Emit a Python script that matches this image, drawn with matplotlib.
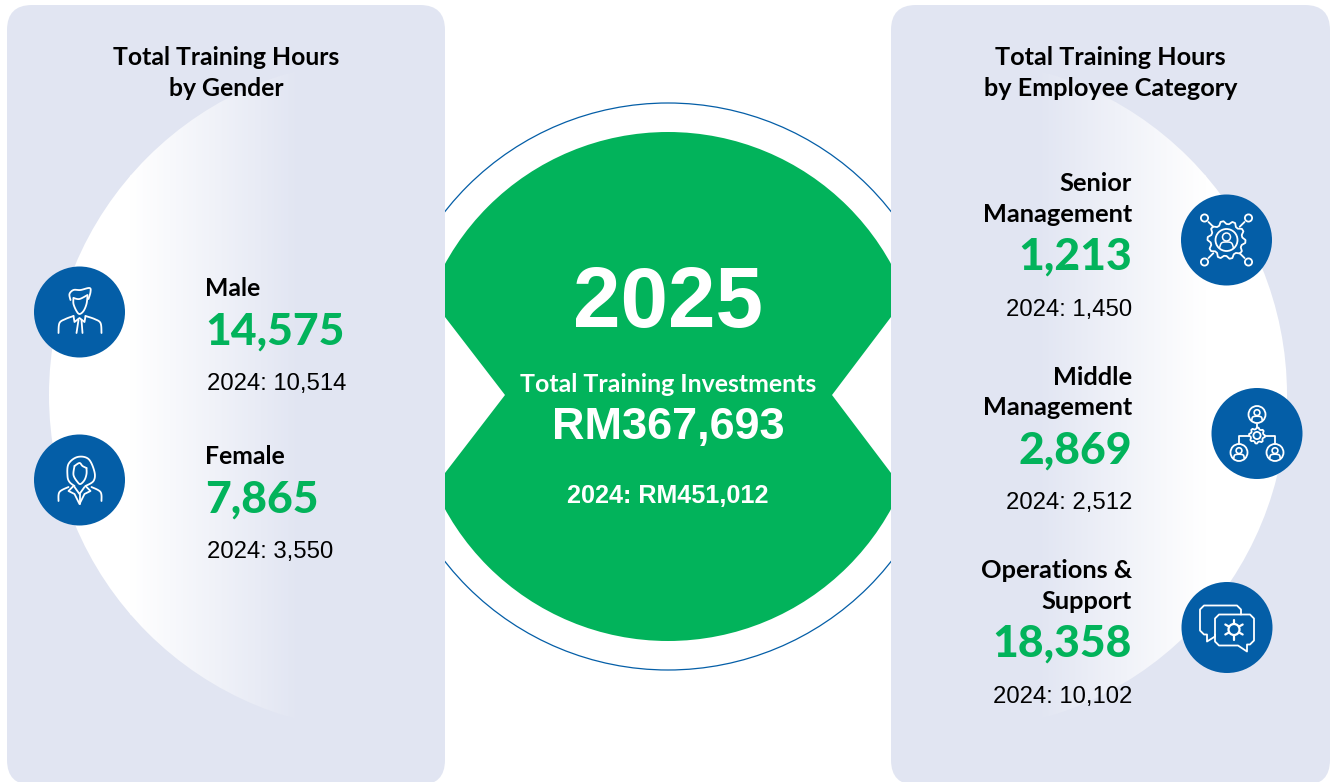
#!/usr/bin/env python
"""Training hours infographic: gender and employee category panels around a central investment badge."""

import numpy as np
import matplotlib
matplotlib.use("Agg")
import matplotlib.pyplot as plt
from matplotlib.patches import Circle, FancyBboxPatch, PathPatch, Polygon
from matplotlib.path import Path
from matplotlib.colors import LinearSegmentedColormap

PANEL = "#E1E5F2"
GREEN = "#02B35B"
BLUE = "#045EA7"
HEAD_FONT = ["Lato", "DejaVu Sans"]
PLAIN_FONT = ["Liberation Sans", "DejaVu Sans"]

# Data
gender_labels = ["Male", "Female"]
gender_2025 = [14575, 7865]
gender_2024 = [10514, 3550]

category_labels = ["Senior\nManagement", "Middle\nManagement", "Operations &\nSupport"]
category_2025 = [1213, 2869, 18358]
category_2024 = [1450, 2512, 10102]

investment_2025 = 367693
investment_2024 = 451012

fig = plt.figure(figsize=(13.3, 7.82), dpi=100)
ax = fig.add_axes([0, 0, 1, 1])
ax.set_xlim(0, 1330)
ax.set_ylim(782, 0)
ax.axis("off")


def line(points, lw=1.3, closed=False):
    """White icon stroke through the points."""
    pts = np.array(points, dtype=float)
    codes = [Path.MOVETO] + [Path.LINETO] * (len(pts) - 1)
    if closed:
        pts = np.vstack([pts, pts[0]])
        codes = codes + [Path.CLOSEPOLY]
    ax.add_patch(PathPatch(Path(pts, codes), fc="none", ec="white", lw=lw, zorder=6,
                           capstyle="round", joinstyle="round"))


def curve(x, y, points, lw=1.3):
    """Smooth icon stroke (Catmull-Rom) through points given relative to the icon centre."""
    p = np.array(points, dtype=float) + (x, y)
    p = np.vstack([p[0], p, p[-1]])
    t = np.linspace(0, 1, 12, endpoint=False)[:, None]
    out = []
    for i in range(1, len(p) - 2):
        a, b, c, d = p[i - 1], p[i], p[i + 1], p[i + 2]
        out.append(0.5 * (2 * b + (c - a) * t + (2 * a - 5 * b + 4 * c - d) * t ** 2
                          + (3 * b - a - 3 * c + d) * t ** 3))
    out.append(p[-1][None, :])
    line(np.vstack(out), lw=lw)


def ring(x, y, r, lw=1.3):
    ax.add_patch(Circle((x, y), r, fc="none", ec="white", lw=lw, zorder=6))


def gear(x, y, r_out, r_in, teeth, lw=1.3):
    angles = np.linspace(0, 2 * np.pi, teeth * 4, endpoint=False)
    radii = np.tile([r_out, r_out, r_in, r_in], teeth)
    pts = np.column_stack([x + radii * np.cos(angles), y + radii * np.sin(angles)])
    line(pts, lw=lw, closed=True)


def person_badge(x, y, r):
    """Small head and shoulders inside a ring."""
    ring(x, y, r)
    ring(x, y - r * 0.22, r * 0.34, lw=1.2)
    curve(x, y, [(-r * 0.62, r * 0.7), (-r * 0.5, r * 0.3), (0, r * 0.2),
                 (r * 0.5, r * 0.3), (r * 0.62, r * 0.7)], lw=1.2)


def male_icon(x, y):
    curve(x, y, [(-9, -12), (-10, -18), (-6, -22), (1, -22), (10, -24), (11, -20), (9, -13)])
    curve(x, y, [(-6, -14), (-6, -8), (-3, -1), (0, 2), (4, -1), (7, -8), (8, -16)])
    curve(x, y, [(-6, -14), (0, -13), (8, -17)])
    curve(x, y, [(-21, 21), (-20, 11), (-14, 7), (-6, 4)])
    curve(x, y, [(22, 21), (21, 11), (15, 7), (6, 4)])
    line([(x - 6, y + 4), (x - 5, y + 10), (x, y + 6), (x + 5, y + 10), (x + 6, y + 4)])
    line([(x - 1, y + 8), (x - 3, y + 21)])
    line([(x + 2, y + 8), (x + 3, y + 21)])


def female_icon(x, y):
    curve(x, y, [(-5, 6), (-10, 2), (-12, -4), (-11, -16), (-2, -23), (9, -21), (15, -8),
                 (14, 1), (6, 6)])
    curve(x, y, [(-5, -14), (-6, -5), (-2, 2), (1, 4), (5, 0), (7, -6), (7, -12)])
    curve(x, y, [(-5, -14), (0, -17), (3, -14), (7, -12)])
    curve(x, y, [(-21, 21), (-20, 12), (-11, 7)])
    curve(x, y, [(22, 21), (21, 12), (12, 7)])
    line([(x - 6, y + 6), (x - 11, y + 11), (x - 5, y + 14), (x, y + 24), (x + 5, y + 14),
          (x + 11, y + 11), (x + 6, y + 6)])
    line([(x - 5, y + 7), (x, y + 14), (x + 5, y + 7)])
    line([(x, y + 14), (x, y + 24)])


def senior_icon(x, y):
    gear(x, y, 19, 16, 10)
    ring(x, y, 11)
    ring(x, y - 3, 4, lw=1.1)
    curve(x, y, [(-7, 8), (-5, 3), (0, 2), (5, 3), (7, 8)], lw=1.1)
    for dx, dy in [(-22, -22), (22, -22), (-22, 22), (22, 22)]:
        ring(x + dx, y + dy, 3.6)
        line([(x + dx * 0.82, y + dy * 0.82), (x + dx * 0.6, y + dy * 0.6)])


def middle_icon(x, y):
    person_badge(x, y - 19, 8.5)
    person_badge(x - 18, y + 19, 8.5)
    person_badge(x + 18, y + 19, 8.5)
    gear(x, y + 2, 8, 6.5, 8)
    ring(x, y + 2, 3.6)
    line([(x, y - 10), (x, y - 6)])
    line([(x - 8, y + 2), (x - 18, y + 2), (x - 18, y + 10)])
    line([(x + 8, y + 2), (x + 18, y + 2), (x + 18, y + 10)])


def speech_icon(x, y):
    line([(x + 14, y - 13), (x + 14, y - 18), (x + 10, y - 22), (x - 23, y - 22), (x - 27, y - 18),
          (x - 27, y + 3), (x - 23, y + 7), (x - 20, y + 7), (x - 20, y + 14), (x - 12, y + 9),
          (x - 12, y + 7)])
    line([(x - 8, y - 13), (x + 23, y - 13), (x + 27, y - 9), (x + 27, y + 13), (x + 23, y + 17),
          (x + 20, y + 17), (x + 20, y + 24), (x + 11, y + 18), (x - 8, y + 18), (x - 12, y + 14),
          (x - 12, y - 9)], closed=True)
    ring(x + 7, y + 2, 5.5, lw=1.6)
    for a in np.deg2rad(np.arange(30, 360, 60)):
        line([(x + 7 + 6 * np.cos(a), y + 2 + 6 * np.sin(a)),
              (x + 7 + 10 * np.cos(a), y + 2 + 10 * np.sin(a))], lw=1.6)


def panel(x0, x1):
    ax.add_patch(FancyBboxPatch((x0 + 25, 30), x1 - x0 - 50, 730,
                                boxstyle="round,pad=25,rounding_size=25",
                                fc=PANEL, ec="none", zorder=2, mutation_aspect=1))


def white_arc(cx, x_white, x_panel):
    """Big white disc fading into the panel colour, cut at the x_panel edge."""
    x_lo, x_hi = sorted((x_white, x_panel))
    ramp = np.linspace(0, 1, 256).reshape(1, -1)
    if x_white > x_panel:
        ramp = ramp[:, ::-1]
    cmap = LinearSegmentedColormap.from_list("fade", ["#FFFFFF", PANEL])
    disc = Circle((cx, 395), 336, transform=ax.transData, fc="white", ec="none")
    if x_white < x_panel:
        left, right = cx - 336, x_lo
        ax.add_patch(Polygon([(left, 0), (right + 1, 0), (right + 1, 782), (left, 782)], fc="white",
                             ec="none", zorder=3, clip_path=disc))
    else:
        left, right = x_hi, cx + 336
        ax.add_patch(Polygon([(left - 1, 0), (right, 0), (right, 782), (left - 1, 782)], fc="white",
                             ec="none", zorder=3, clip_path=disc))
    img = ax.imshow(ramp, extent=(x_lo, x_hi, 782, 0), cmap=cmap, aspect="auto", zorder=3, vmin=0, vmax=1)
    img.set_clip_path(disc)


# Centre badge, panels are painted over its sides
ax.add_patch(Circle((668, 386.5), 283.5, fc="none", ec=BLUE, lw=0.9, zorder=1))
notched = Polygon([(445, 0), (891, 0), (891, 317), (832, 395), (891, 473), (891, 782), (445, 782),
                   (445, 473), (505, 395), (445, 317)], transform=ax.transData, fc="none", ec="none")
ax.add_patch(Circle((668, 386.5), 254.5, fc=GREEN, ec="none", zorder=1, clip_path=notched))

panel(7, 445)
panel(891, 1330)
white_arc(385, 130, 301)
white_arc(951, 1206, 1036)
ax.set_xlim(0, 1330)
ax.set_ylim(782, 0)

# Panel titles
ax.text(226, 73, "Total Training Hours\nby Gender", ha="center", va="center", fontsize=17.8,
        fontweight="bold", family=HEAD_FONT, color="black", linespacing=1.42, zorder=7)
ax.text(1110.5, 73, "Total Training Hours\nby Employee Category", ha="center", va="center", fontsize=18.2,
        fontweight="bold", family=HEAD_FONT, color="black", linespacing=1.4, zorder=7)

# Gender block
for i, (label, now, prev) in enumerate(zip(gender_labels, gender_2025, gender_2024)):
    y = 289 + 168 * i
    ax.text(205, y, label, ha="left", va="center", fontsize=17.8, fontweight="bold", family=HEAD_FONT,
            color="black", zorder=7)
    ax.text(205, y + 43, f"{now:,}", ha="left", va="center", fontsize=32, fontweight="black", family=HEAD_FONT,
            color=GREEN, zorder=7)
    ax.text(207, y + 95, f"2024: {prev:,}", ha="left", va="center", fontsize=17.2, family=PLAIN_FONT,
            color="black", zorder=7)

# Employee category block
for i, (label, now, prev) in enumerate(zip(category_labels, category_2025, category_2024)):
    y = 199 + 193.5 * i
    ax.text(1132, y, label, ha="right", va="center", fontsize=18.3, fontweight="bold", family=HEAD_FONT,
            color="black", linespacing=1.4, zorder=7)
    ax.text(1132, y + 58, f"{now:,}", ha="right", va="center", fontsize=32, fontweight="black", family=HEAD_FONT,
            color=GREEN, zorder=7)
    ax.text(1132, y + 111, f"2024: {prev:,}", ha="right", va="center", fontsize=17.2, family=PLAIN_FONT,
            color="black", zorder=7)

# Icons
for x, y in [(79.5, 312), (79.5, 480), (1226.5, 240), (1257, 433.5), (1227, 627.5)]:
    ax.add_patch(Circle((x, y), 45.5, fc=BLUE, ec="none", zorder=5))
male_icon(79.5, 312)
female_icon(79.5, 480)
senior_icon(1226.5, 240)
middle_icon(1257, 433.5)
speech_icon(1227, 627.5)

# Centre text
ax.text(668, 305, "2025", ha="center", va="center", fontsize=61.5, fontweight="bold", family=PLAIN_FONT,
        color="white", zorder=7)
ax.text(668, 385, "Total Training Investments", ha="center", va="center", fontsize=17.9, fontweight="bold",
        family=HEAD_FONT, color="white", zorder=7)
ax.text(668, 428, f"RM{investment_2025:,}", ha="center", va="center", fontsize=32.4, fontweight="bold",
        family=PLAIN_FONT, color="white", zorder=7)
ax.text(668, 496, f"2024: RM{investment_2024:,}", ha="center", va="center", fontsize=18.1, fontweight="bold",
        family=PLAIN_FONT, color="white", zorder=7)

fig.savefig("out.png", dpi=100, facecolor="white")
